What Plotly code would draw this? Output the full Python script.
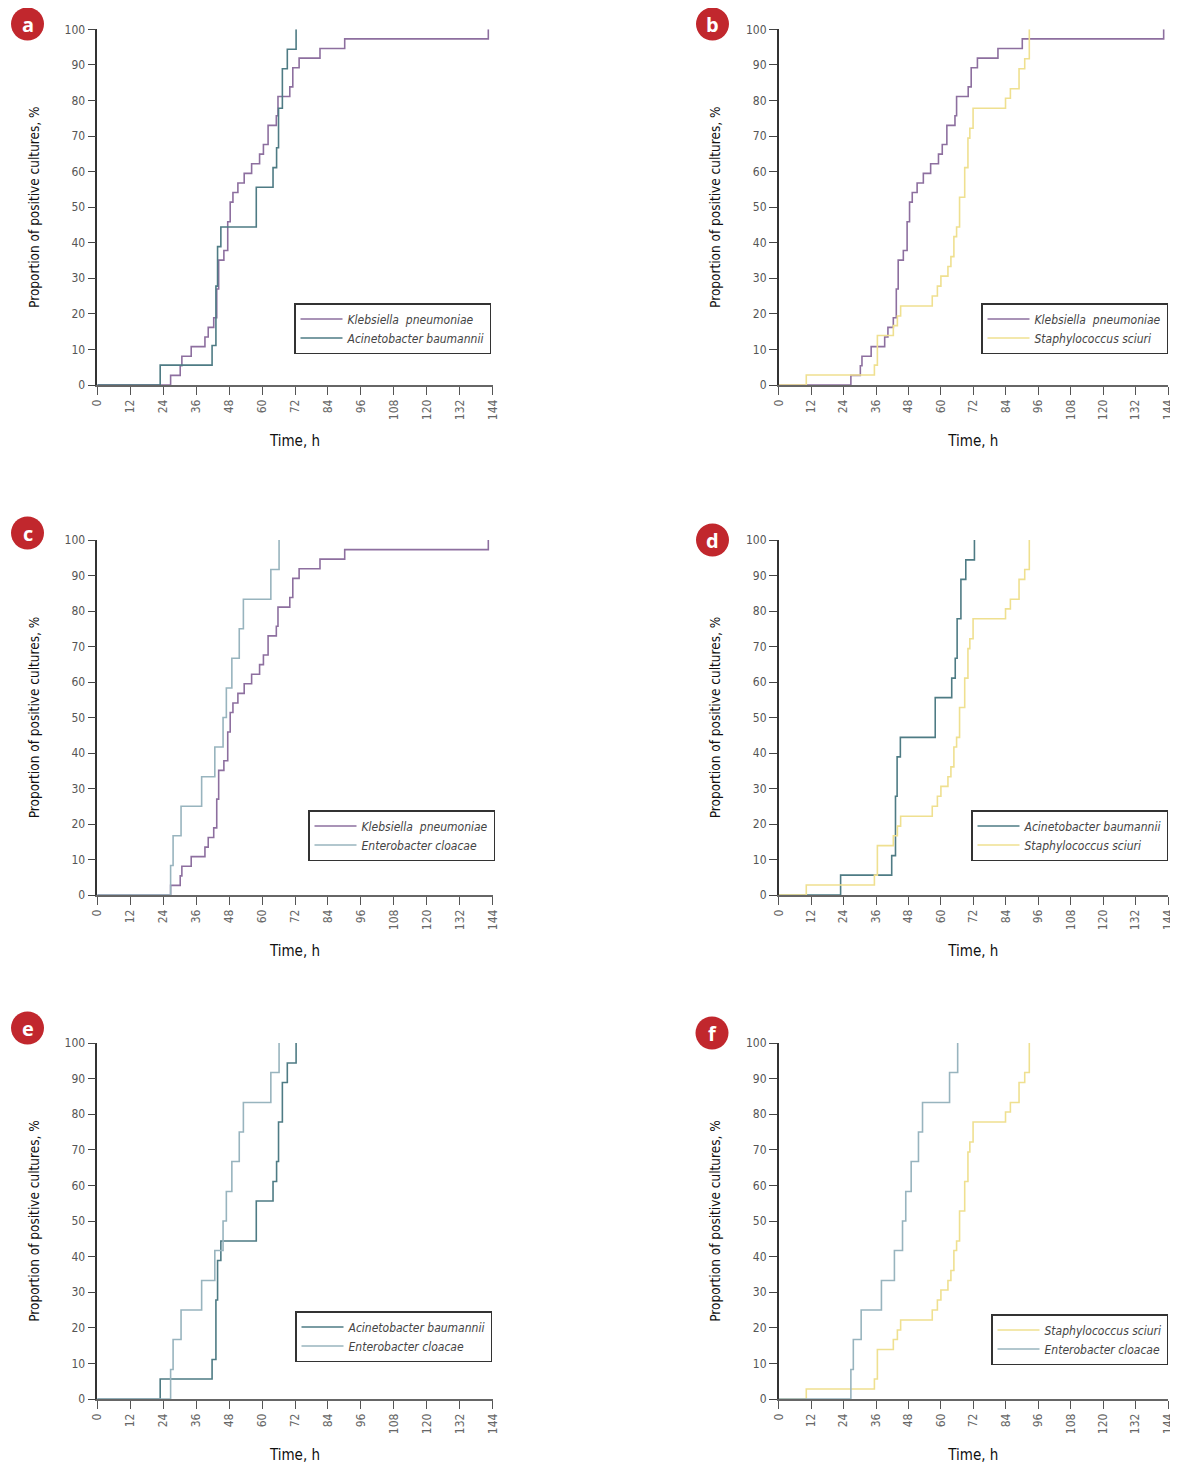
import plotly.graph_objects as go

# ---------------- data ----------------
# Time to positivity (h) and cumulative proportion of positive cultures (%)
kp_time = [26.7, 30.2, 30.8, 34.2, 39.2, 40.4, 42.4, 43.5, 44.2, 46.1, 47.5, 48.4, 49.4,
           51.2, 53.5, 56.2, 59.1, 60.5, 62.2, 65.2, 65.8, 70.1, 71.2, 73.5, 81.1, 90.1, 142.4]
kp_pct = [2.7, 5.4, 8.1, 10.8, 13.5, 16.2, 18.9, 27.0, 35.1, 37.8, 45.9, 51.4, 54.1,
          56.8, 59.5, 62.2, 64.9, 67.6, 73.0, 75.7, 81.1, 83.8, 89.2, 91.9, 94.6, 97.3, 100.0]

ab_time = [22.9, 41.8, 43.2, 43.8, 45.0, 57.9, 64.0, 65.3, 66.0, 67.4, 69.2, 72.4]
ab_pct = [5.6, 11.1, 27.8, 38.9, 44.4, 55.6, 61.1, 66.7, 77.8, 88.9, 94.4, 100.0]

ss_time = [10.2, 35.4, 36.5, 42.4, 43.9, 45.1, 56.8, 58.7, 60.0, 62.6, 63.7, 64.8, 65.8,
           66.9, 68.8, 70.0, 70.7, 71.9, 83.9, 85.7, 88.9, 91.0, 92.7]
ss_pct = [2.8, 5.6, 13.9, 16.7, 19.4, 22.2, 25.0, 27.8, 30.6, 33.3, 36.1, 41.7, 44.4,
          52.8, 61.1, 69.4, 72.2, 77.8, 80.6, 83.3, 88.9, 91.7, 100.0]

ec_time = [26.7, 27.6, 30.5, 38.0, 42.8, 45.8, 47.0, 49.0, 51.7, 53.2, 63.2, 66.2]
ec_pct = [8.3, 16.7, 25.0, 33.3, 41.7, 50.0, 58.3, 66.7, 75.0, 83.3, 91.7, 100.0]

x_ticks = [0, 12, 24, 36, 48, 60, 72, 84, 96, 108, 120, 132, 144]
y_ticks = [0, 10, 20, 30, 40, 50, 60, 70, 80, 90, 100]

panel_letters = ["a", "b", "c", "d", "e", "f"]
x_title = "Time, h"
y_title = "Proportion of positive cultures, %"

species = {
    "kp": ("Klebsiella  pneumoniae", kp_time, kp_pct, "#8d6f9f"),
    "ab": ("Acinetobacter baumannii", ab_time, ab_pct, "#4e7b84"),
    "ss": ("Staphylococcus sciuri", ss_time, ss_pct, "#efe090"),
    "ec": ("Enterobacter cloacae", ec_time, ec_pct, "#98b4be"),
}
panel_species = [["kp", "ab"], ["kp", "ss"], ["kp", "ec"], ["ab", "ss"], ["ab", "ec"], ["ss", "ec"]]

# ---------------- layout geometry (page pixels) ----------------
# The page body has an 8 px margin, so the figure is offset by 8 px.
OFF = 8
W, H = 1178 - OFF, 1477 - OFF
col_x = [(97.3, 492.7), (778.7, 1168.0)]
row_y = [(29.3, 385.0), (540.0, 895.0), (1043.0, 1399.0)]
legend_box = [(491, 354), (1168, 354), (495, 861), (1168, 861), (492, 1362), (1168, 1365)]
badges = [(27.5, 24), (712.5, 24), (27.5, 533), (712.5, 540), (27.5, 1028), (712, 1033)]


def px(v):
    return (v - OFF) / W


def py(v):
    return 1 - (v - OFF) / H


FONT = "DejaVu Sans Condensed, Liberation Sans Narrow, Roboto, sans-serif"

fig = go.Figure()
layout = dict(width=W, height=H, margin=dict(l=0, r=0, t=0, b=0, autoexpand=False),
              paper_bgcolor="white", plot_bgcolor="white", showlegend=True,
              shapes=[], annotations=[])

for i in range(6):
    r, c = divmod(i, 2)
    ax = "" if i == 0 else str(i + 1)
    x0, x1 = col_x[c]
    yt, yb = row_y[r]
    lg = "legend" if i == 0 else "legend%d" % (i + 1)
    for key in panel_species[i]:
        name, t, p, color = species[key]
        fig.add_trace(go.Scatter(
            x=[0] + t, y=[0] + p, mode="lines", line=dict(shape="hv", color=color, width=1.6),
            name="<i>%s</i>" % name, xaxis="x" + ax, yaxis="y" + ax, legend=lg,
            hoverinfo="skip"))
    layout["xaxis" + ax] = dict(
        domain=[px(x0), px(x1)], anchor="y" + ax, range=[0, 144], tickvals=x_ticks,
        ticktext=[str(v) for v in x_ticks], tickangle=-90, ticks="outside", ticklen=8,
        tickwidth=1.3, tickcolor="#555", showline=True, linecolor="#666", linewidth=1.6,
        showgrid=False, zeroline=False, automargin=False, ticklabeloverflow="allow",
        tickfont=dict(family=FONT, size=12, color="#666"),
        title=dict(text=x_title, font=dict(family=FONT, size=15, color="#111"), standoff=16))
    layout["yaxis" + ax] = dict(
        domain=[py(yb), py(yt)], anchor="x" + ax, range=[0, 100], tickvals=y_ticks,
        ticks="outside", ticklen=8, tickwidth=1.3, tickcolor="#444", showline=True,
        linecolor="#333", linewidth=1.5, showgrid=False, zeroline=False, automargin=False,
        tickfont=dict(family=FONT, size=12, color="#555"),
        title=dict(text=y_title, font=dict(family=FONT, size=13.5, color="#111"), standoff=22))
    bx, by = legend_box[i]
    layout[lg] = dict(x=px(bx), y=py(by), xanchor="right", yanchor="bottom",
                      bgcolor="white", bordercolor="#333", borderwidth=1.5,
                      font=dict(family=FONT, size=12, color="#444"), itemwidth=42,
                      tracegroupgap=0)
    cx, cy = badges[i]
    rad = 16.5
    layout["shapes"].append(dict(type="circle", xref="paper", yref="paper",
                                 x0=px(cx - rad), x1=px(cx + rad),
                                 y0=py(cy + rad), y1=py(cy - rad),
                                 fillcolor="#c1272d", line=dict(width=0)))
    layout["annotations"].append(dict(text="<b>%s</b>" % panel_letters[i], xref="paper",
                                      yref="paper", x=px(cx), y=py(cy), showarrow=False,
                                      xanchor="center", yanchor="middle",
                                      font=dict(family="Open Sans, sans-serif", size=20,
                                                color="white")))

fig.update_layout(**layout)
fig.write_html("out.html")
